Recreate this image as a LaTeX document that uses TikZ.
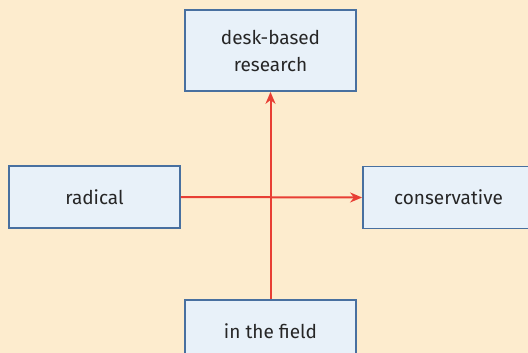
\documentclass[tikz,border=0pt]{standalone}
\usepackage{fontspec}
\setmainfont{Fira Sans}
\usetikzlibrary{arrows.meta}
\definecolor{bgcol}{RGB}{253,236,206}
\definecolor{boxfill}{RGB}{232,241,249}
\definecolor{boxline}{RGB}{72,112,160}
\definecolor{arrcol}{RGB}{232,62,52}
\begin{document}
\begin{tikzpicture}[x=1pt,y=-1pt,
  box/.style={draw=boxline, line width=1.8pt, fill=boxfill, minimum width=171pt, inner sep=0pt, align=center, font=\fontsize{19}{27}\selectfont, text=black!85},
  conn/.style={draw=arrcol, line width=2pt, -{Stealth[length=12pt,width=10pt]}}]
\useasboundingbox (0,0) rectangle (528,353);
\fill[bgcol] (0,0) rectangle (528,353);
\clip (0,0) rectangle (528,353);
\node[box, minimum height=81pt] (desk) at (270.5,50.5) {desk-based\\research};
\node[box, minimum height=62pt] (rad) at (94.5,197) {radical};
\node[box, minimum height=62pt] (cons) at (448.5,197.5) {conservative};
\node[box, minimum height=62pt] (field) at (270.5,331) {in the field};
\draw[conn] (rad.east) -- (cons.west);
\draw[conn] (field.north) -- (desk.south);
\end{tikzpicture}
\end{document}
